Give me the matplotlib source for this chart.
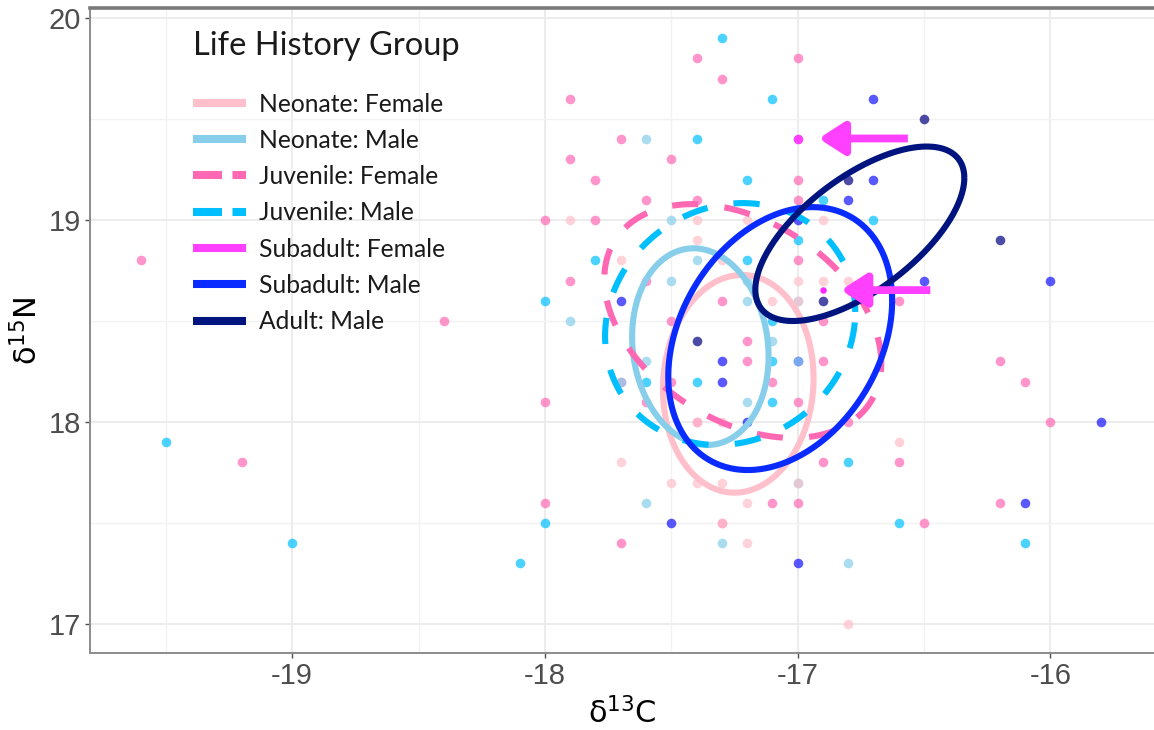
import numpy as np
import matplotlib
matplotlib.use("Agg")
import matplotlib.pyplot as plt
from matplotlib.lines import Line2D
from matplotlib.patches import FancyArrowPatch, ArrowStyle

plt.rcParams['mathtext.fontset'] = 'custom'
plt.rcParams['mathtext.rm'] = 'Liberation Sans'

# ---------------- data ----------------
jf_x = [-19.6, -19.2, -18.4, -17.4, -17.0, -17.3, -17.9, -17.7, -17.9, -17.5, -17.8, -17.0,
        -17.6, -17.4, -17.0, -18.0, -17.8, -17.0, -17.9, -17.6, -17.3, -16.6, -17.5, -16.9,
        -17.2, -17.2, -16.9, -16.2, -17.5, -17.1, -16.1, -18.0, -17.6, -17.0, -16.8, -16.0,
        -16.9, -16.6, -18.0, -17.1, -17.0, -16.2, -16.5, -17.7, -17.3, -17.7, -17.4]
jf_y = [18.8, 17.8, 18.5, 19.8, 19.8, 19.7, 19.6, 19.4, 19.3, 19.3, 19.2, 19.2,
        19.1, 19.1, 19.1, 19.0, 19.0, 18.8, 18.7, 18.7, 18.6, 18.6, 18.5, 18.5,
        18.4, 18.3, 18.3, 18.3, 18.2, 18.2, 18.2, 18.1, 18.1, 18.1, 18.0, 18.0,
        17.8, 17.8, 17.6, 17.6, 17.6, 17.6, 17.5, 17.4, 17.5, 18.2, 18.0]

nf_x = [-17.9, -17.4, -17.2, -17.4, -17.7, -17.3, -17.0, -16.9, -16.8, -17.1, -16.9, -17.3,
        -16.6, -17.7, -17.5, -17.4, -17.3, -17.2, -17.2, -16.8, -17.0, -17.0, -17.3, -17.4]
nf_y = [19.0, 19.0, 19.0, 18.9, 18.8, 18.8, 18.7, 18.7, 18.7, 18.6, 19.0, 18.0,
        17.9, 17.8, 17.7, 17.7, 17.7, 17.6, 17.4, 17.0, 18.6, 17.7, 17.5, 18.0]

nm_x = [-17.6, -17.4, -17.5, -17.2, -17.9, -17.1, -17.6, -17.2, -17.6, -17.3, -16.8, -17.5,
        -17.2, -17.0, -17.0, -17.7, -17.0]
nm_y = [19.4, 18.8, 18.7, 18.6, 18.5, 18.4, 18.3, 18.1, 17.6, 17.4, 17.3, 19.0,
        18.7, 18.6, 17.7, 18.2, 18.3]

jm_x = [-17.3, -17.1, -17.4, -17.2, -16.9, -16.7, -17.0, -17.8, -17.2, -18.0, -17.1, -17.1,
        -17.6, -17.4, -17.1, -16.8, -18.0, -16.6, -16.1, -18.1, -19.5, -19.0]
jm_y = [19.9, 19.6, 19.4, 19.2, 19.1, 19.0, 18.9, 18.8, 18.8, 18.6, 18.5, 18.3,
        18.2, 18.2, 18.1, 17.8, 17.5, 17.5, 17.4, 17.3, 17.9, 17.4]

sm_x = [-16.7, -16.7, -16.8, -17.0, -16.5, -16.0, -17.7, -17.3, -17.3, -17.2, -15.8, -16.1,
        -17.5, -17.0, -17.0]
sm_y = [19.6, 19.2, 19.1, 19.0, 18.7, 18.7, 18.6, 18.3, 18.2, 18.0, 18.0, 17.6,
        17.5, 17.3, 18.3]

am_x = [-16.5, -16.8, -16.2, -16.9, -17.4]
am_y = [19.5, 19.2, 18.9, 18.6, 18.4]

sf_x = [-17.0]
sf_y = [19.4]
sf_small_x = [-16.9]
sf_small_y = [18.655]

# ellipses: centre x, centre y, half-width, half-height, correlation
ell_groups = ["Neonate: Female", "Neonate: Male", "Juvenile: Female", "Juvenile: Male",
              "Subadult: Male", "Adult: Male"]
ell_cx = [-17.235, -17.385, -17.217, -17.267, -17.069, -16.754]
ell_cy = [18.189, 18.373, 18.500, 18.485, 18.413, 18.932]
ell_sx = [0.298, 0.270, 0.548, 0.495, 0.443, 0.4135]
ell_sy = [0.539, 0.487, 0.579, 0.599, 0.651, 0.432]
ell_rho = [0.05, -0.10, -0.36, 0.10, 0.29, 0.64]

arrow_tail_x = [-16.564, -16.475]
arrow_tip_x = [-16.917, -16.829]
arrow_y = [19.404, 18.653]

legend_labels = ["Neonate: Female", "Neonate: Male", "Juvenile: Female", "Juvenile: Male",
                 "Subadult: Female", "Subadult: Male", "Adult: Male"]

x_ticks = [-19, -18, -17, -16]
y_ticks = [17, 18, 19, 20]

# ---------------- styles ----------------
col = {
    "Neonate: Female": "#FFC0CB",
    "Neonate: Male": "#87CEEB",
    "Juvenile: Female": "#FF69B4",
    "Juvenile: Male": "#00BFFF",
    "Subadult: Female": "#FF40FF",
    "Subadult: Male": "#0A2BFF",
    "Adult: Male": "#00147F",
}
pt_col = {
    "Neonate: Female": "#FFC0CB",
    "Neonate: Male": "#87CEEB",
    "Juvenile: Female": "#FF69B4",
    "Juvenile: Male": "#00BFFF",
    "Subadult: Female": "#FF00FF",
    "Subadult: Male": "#0000FF",
    "Adult: Male": "#000080",
}
dashed = {"Juvenile: Female", "Juvenile: Male"}

W, H = 1154, 730
fig = plt.figure(figsize=(W / 100, H / 100), dpi=100)
ax = fig.add_axes([90 / W, (H - 653) / H, (W - 90) / W, (653 - 8) / H])

ax.set_xlim(-19.80, -15.59)
ax.set_ylim(16.856, 20.05)

# grid
ax.set_xticks(x_ticks)
ax.set_yticks(y_ticks)
ax.set_xticks([-19.5, -18.5, -17.5, -16.5], minor=True)
ax.set_yticks([17.5, 18.5, 19.5], minor=True)
ax.grid(True, which='major', color='#EBEBEB', lw=1.3, zorder=0)
ax.grid(True, which='minor', color='#F2F2F2', lw=1.0, zorder=0)
ax.set_axisbelow(True)

# points
s = 48
a = 0.7
ax.scatter(jf_x, jf_y, s=s, color=pt_col["Juvenile: Female"], alpha=a, lw=0, zorder=2)
ax.scatter(jm_x, jm_y, s=s, color=pt_col["Juvenile: Male"], alpha=a, lw=0, zorder=2)
ax.scatter(sm_x, sm_y, s=s, color=pt_col["Subadult: Male"], alpha=0.65, lw=0, zorder=2)
ax.scatter(am_x, am_y, s=s, color=pt_col["Adult: Male"], alpha=a, lw=0, zorder=2)
ax.scatter(nm_x, nm_y, s=s, color=pt_col["Neonate: Male"], alpha=a, lw=0, zorder=3)
ax.scatter(nf_x, nf_y, s=s, color=pt_col["Neonate: Female"], alpha=a, lw=0, zorder=3)
ax.scatter(sf_x, sf_y, s=s, color=pt_col["Subadult: Female"], alpha=0.75, lw=0, zorder=3)
ax.scatter(sf_small_x, sf_small_y, s=22, color=pt_col["Subadult: Female"], alpha=0.85, lw=0, zorder=3)

# ellipses
t = np.linspace(0, 2 * np.pi, 400)
for g, cx, cy, sx, sy, r in zip(ell_groups, ell_cx, ell_cy, ell_sx, ell_sy, ell_rho):
    ex = cx + sx * np.cos(t)
    ey = cy + sy * (r * np.cos(t) + np.sqrt(1 - r * r) * np.sin(t))
    ls = (0, (4.3, 4.3)) if g in dashed else '-'
    ax.plot(ex, ey, color=col[g], lw=4.4, ls=ls, zorder=4, solid_capstyle='butt',
            dash_capstyle='butt')

# arrows
for tx, hx, yy in zip(arrow_tail_x, arrow_tip_x, arrow_y):
    arr = FancyArrowPatch((tx, yy), (hx, yy),
                          arrowstyle=ArrowStyle('-|>', head_length=0.7, head_width=0.45),
                          mutation_scale=22, lw=5.6, color=col["Subadult: Female"],
                          shrinkA=0, shrinkB=0, joinstyle='round', capstyle='butt', zorder=6)
    ax.add_patch(arr)

# spines / ticks
for side in ['left', 'bottom', 'top']:
    ax.spines[side].set_color('#8C8C8C')
    ax.spines[side].set_linewidth(1.4)
ax.spines['top'].set_linewidth(2.6)
ax.spines['top'].set_color('#7A7A7A')
ax.spines['right'].set_visible(False)
ax.tick_params(which='major', length=3.3, width=1.0, color='#4D4D4D', labelcolor='#4D4D4D',
               labelsize=21, pad=3)
ax.tick_params(which='minor', length=0)
ax.set_xticklabels([str(v) for v in x_ticks])
ax.set_yticklabels([str(v) for v in y_ticks])
for lab in ax.get_xticklabels() + ax.get_yticklabels():
    lab.set_fontfamily('Liberation Sans')

ax.set_xlabel(r'$\mathregular{δ^{13}C}$', fontsize=22, labelpad=5, color='black')
ax.set_ylabel(r'$\mathregular{δ^{15}N}$', fontsize=22, labelpad=4, color='black')

# legend
handles = []
for lab in legend_labels:
    if lab in dashed:
        h = Line2D([], [], color=col[lab], lw=5.8, ls=(0, (3.6, 1.3)), dash_capstyle='butt')
    else:
        h = Line2D([], [], color=col[lab], lw=5.8, solid_capstyle='butt')
    handles.append(h)
leg = ax.legend(handles, legend_labels, title="Life History Group", loc='upper left',
                bbox_to_anchor=((193 - 90) / 1064, 0.965), frameon=False, borderpad=0,
                borderaxespad=0, handlelength=2.15, handletextpad=0.55, labelspacing=0.54,
                prop={'family': 'Lato', 'size': 17.7},
                title_fontproperties={'family': 'Lato', 'size': 23.5},
                alignment='left')
leg.get_title().set_color('#1A1A1A')
for txt in leg.get_texts():
    txt.set_color('#1A1A1A')
leg._legend_box.sep = 23
leg.set_zorder(7)

fig.savefig("out.png", dpi=100)
